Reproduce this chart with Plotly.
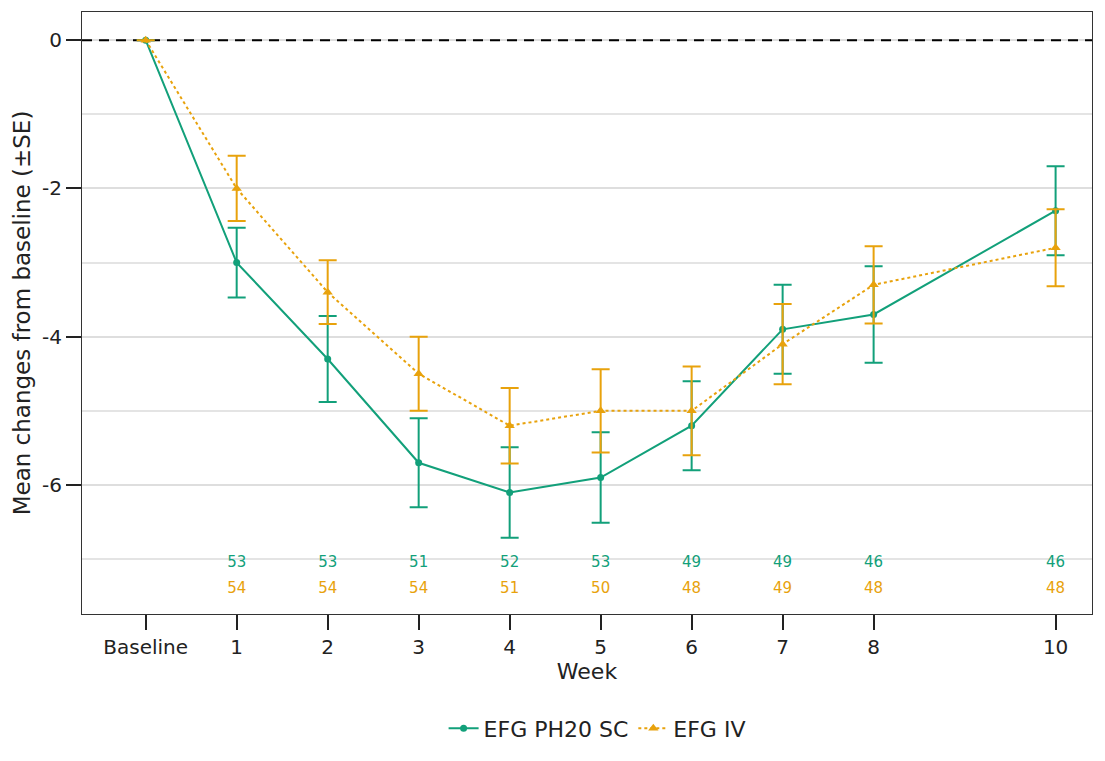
import plotly.graph_objects as go

# Visit schedule (weeks from baseline) and axis labels
weeks = [0, 1, 2, 3, 4, 5, 6, 7, 8, 10]
week_labels = ["Baseline", "1", "2", "3", "4", "5", "6", "7", "8", "10"]

# Mean change from baseline and standard errors
sc_mean = [0, -3.0, -4.3, -5.7, -6.1, -5.9, -5.2, -3.9, -3.7, -2.3]
sc_se = [0, 0.47, 0.58, 0.60, 0.61, 0.61, 0.60, 0.60, 0.65, 0.60]
iv_mean = [0, -2.0, -3.4, -4.5, -5.2, -5.0, -5.0, -4.1, -3.3, -2.8]
iv_se = [0, 0.44, 0.43, 0.50, 0.51, 0.56, 0.60, 0.54, 0.52, 0.52]

# Number of patients at each post-baseline visit
n_weeks = [1, 2, 3, 4, 5, 6, 7, 8, 10]
sc_n = [53, 53, 51, 52, 53, 49, 49, 46, 46]
iv_n = [54, 54, 54, 51, 50, 48, 49, 48, 48]

y_ticks = [0, -2, -4, -6]
x_range = [-0.7, 10.4]

GREEN = "#12a07a"
ORANGE = "#e8a20c"
FONT = "DejaVu Sans"

fig = go.Figure()

# Reference line at zero change
fig.add_trace(go.Scatter(
    x=x_range, y=[0, 0], mode="lines",
    line=dict(color="black", width=2, dash="10px,7px"),
    showlegend=False, hoverinfo="skip",
))

fig.add_trace(go.Scatter(
    x=weeks, y=sc_mean, name="EFG PH20 SC", mode="lines+markers",
    line=dict(color=GREEN, width=2),
    marker=dict(symbol="circle", size=7, color=GREEN),
    error_y=dict(type="data", array=sc_se, color=GREEN, thickness=2, width=9),
))
fig.add_trace(go.Scatter(
    x=weeks, y=iv_mean, name="EFG IV", mode="lines+markers",
    line=dict(color=ORANGE, width=2, dash="dot"),
    marker=dict(symbol="triangle-up", size=9, color=ORANGE),
    error_y=dict(type="data", array=iv_se, color=ORANGE, thickness=2, width=9),
))

# Patient counts below the curves
fig.add_trace(go.Scatter(
    x=n_weeks, y=[-7.06] * len(n_weeks), mode="text",
    text=[str(v) for v in sc_n], textfont=dict(color=GREEN, size=15, family=FONT),
    showlegend=False, hoverinfo="skip",
))
fig.add_trace(go.Scatter(
    x=n_weeks, y=[-7.40] * len(n_weeks), mode="text",
    text=[str(v) for v in iv_n], textfont=dict(color=ORANGE, size=15, family=FONT),
    showlegend=False, hoverinfo="skip",
))

fig.update_layout(
    width=1105, height=761,
    margin=dict(l=82, r=13, t=12, b=128),
    plot_bgcolor="white", paper_bgcolor="white",
    font=dict(family=FONT, size=20, color="#222222"),
    legend=dict(orientation="h", x=0.51, xanchor="center", y=-0.19, yanchor="middle",
                font=dict(size=22, color="#222222")),
)
fig.update_xaxes(
    range=x_range, tickvals=weeks, ticktext=week_labels,
    ticks="outside", ticklen=15, tickwidth=2, tickcolor="#222222",
    tickfont=dict(size=20),
    showgrid=False, zeroline=False,
    showline=True, linecolor="#333333", linewidth=1.2, mirror=True,
    title=dict(text="Week", standoff=1, font=dict(size=22)),
)
fig.update_yaxes(
    range=[-7.74, 0.38], tickvals=y_ticks, ticktext=[str(v) for v in y_ticks],
    ticks="outside", ticklen=15, tickwidth=2, tickcolor="#222222",
    tickfont=dict(size=20),
    showgrid=True, gridcolor="#dedede", gridwidth=1.5, zeroline=False,
    minor=dict(dtick=1, showgrid=True, gridcolor="#e4e4e4", gridwidth=1.5, ticks=""),
    showline=True, linecolor="#333333", linewidth=1.2, mirror=True,
    title=dict(text="Mean changes from baseline (±SE)", standoff=4, font=dict(size=23)),
)

fig.write_html("out.html")
